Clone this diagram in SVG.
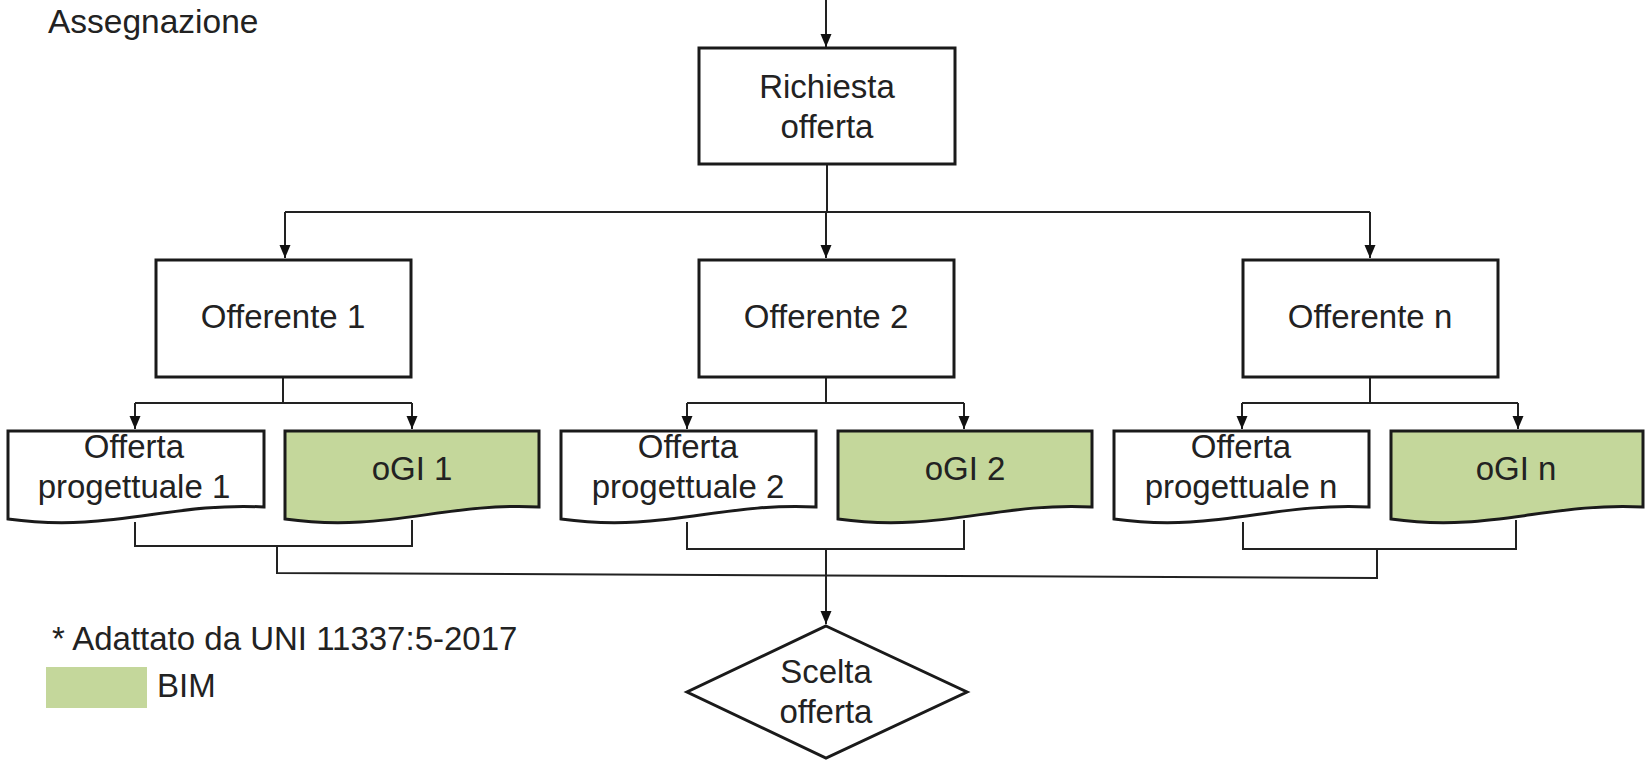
<svg xmlns="http://www.w3.org/2000/svg" width="1646" height="762" viewBox="0 0 1646 762">
<style>
text{font-family:"Liberation Sans",Arial,sans-serif;font-size:33px;fill:#222;text-anchor:middle}
.box{fill:#fff;stroke:#1a1a1a;stroke-width:3}
.doc{fill:#fff;stroke:#1a1a1a;stroke-width:3;stroke-linejoin:miter}
.bim{fill:#c4d79b}
.ln{fill:none;stroke:#222;stroke-width:2}
.arr{marker-end:url(#ah)}
</style>
<defs>
<marker id="ah" markerUnits="userSpaceOnUse" markerWidth="14" markerHeight="14" viewBox="0 0 14 14" refX="13" refY="7" orient="auto">
<path d="M0,1.5 L13,7 L0,12.5 Z" fill="#111"/>
</marker>
</defs>
<rect width="1646" height="762" fill="#fff"/>
<text x="48" y="33" style="text-anchor:start;font-size:33.5px">Assegnazione</text>

<g id="connectors">
<path class="ln arr" d="M826,0 V47"/>
<path class="ln" d="M827,164 V212 M285,212 H1370"/>
<path class="ln arr" d="M285,212 V258"/>
<path class="ln arr" d="M826,212 V258"/>
<path class="ln arr" d="M1370,212 V258"/>
<path class="ln" d="M283,377 V403 M135,403 H412"/>
<path class="ln arr" d="M135,403 V429"/>
<path class="ln arr" d="M412,403 V429"/>
<path class="ln" d="M826,377 V403 M687,403 H964"/>
<path class="ln arr" d="M687,403 V429"/>
<path class="ln arr" d="M964,403 V429"/>
<path class="ln" d="M1370,377 V403 M1242,403 H1518"/>
<path class="ln arr" d="M1242,403 V429"/>
<path class="ln arr" d="M1518,403 V429"/>
<path class="ln" d="M135,522 V546 H412 V520"/>
<path class="ln" d="M687,522 V549 H964 V520"/>
<path class="ln" d="M1243,522 V549 H1516 V520"/>
<path class="ln" d="M277,546 V573 L1377,578 V549"/>
<path class="ln arr" d="M826,549 V624"/>
</g>

<g id="richiesta">
<rect class="box" x="699" y="48" width="256" height="116"/>
<text x="827" y="98">Richiesta</text>
<text x="827" y="138">offerta</text>
</g>

<g id="offerente1">
<rect class="box" x="156" y="260" width="255" height="117"/>
<text x="283" y="328">Offerente 1</text>
</g>
<g id="offerente2">
<rect class="box" x="699" y="260" width="255" height="117"/>
<text x="826" y="328">Offerente 2</text>
</g>
<g id="offerenten">
<rect class="box" x="1243" y="260" width="255" height="117"/>
<text x="1370" y="328">Offerente n</text>
</g>

<g id="offerta1">
<path class="doc" d="M8,431 H264 V507 C170,502 110,533 8,519 Z"/>
<text x="134" y="458">Offerta</text>
<text x="134" y="498">progettuale 1</text>
</g>
<g id="ogi1">
<path class="doc bim" d="M285,431 H539 V507 C445,502 385,533 285,519 Z"/>
<text x="412" y="480">oGI 1</text>
</g>
<g id="offerta2">
<path class="doc" d="M561,431 H816 V507 C722,502 662,533 561,519 Z"/>
<text x="688" y="458">Offerta</text>
<text x="688" y="498">progettuale 2</text>
</g>
<g id="ogi2">
<path class="doc bim" d="M838,431 H1092 V507 C998,502 938,533 838,519 Z"/>
<text x="965" y="480">oGI 2</text>
</g>
<g id="offertan">
<path class="doc" d="M1114,431 H1369 V507 C1275,502 1215,533 1114,519 Z"/>
<text x="1241" y="458">Offerta</text>
<text x="1241" y="498">progettuale n</text>
</g>
<g id="ogin">
<path class="doc bim" d="M1391,431 H1643 V507 C1550,502 1490,533 1391,519 Z"/>
<text x="1516" y="480">oGI n</text>
</g>

<g id="scelta">
<path class="box" d="M826,626 L967,692 L826,758 L687,692 Z"/>
<text x="826" y="683">Scelta</text>
<text x="826" y="723">offerta</text>
</g>

<g id="legend">
<text x="52" y="650" style="text-anchor:start">* Adattato da UNI 11337:5-2017</text>
<rect class="bim" x="46" y="667" width="101" height="41"/>
<text x="157" y="697" style="text-anchor:start">BIM</text>
</g>
</svg>
